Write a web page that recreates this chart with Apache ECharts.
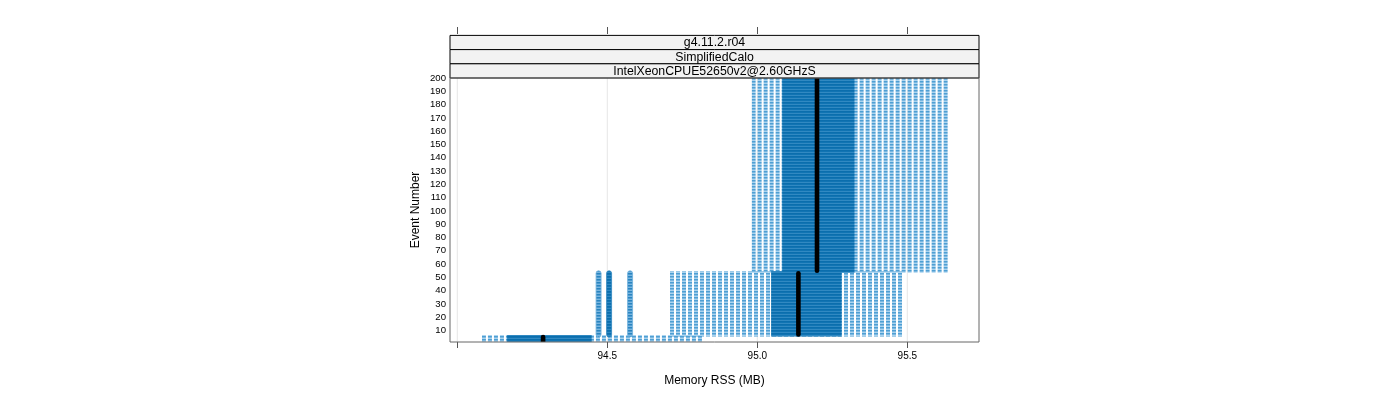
<!DOCTYPE html>
<html>
<head>
<meta charset="utf-8">
<script src="https://cdn.jsdelivr.net/npm/echarts@6/dist/echarts.min.js"></script>
<style>
html,body{margin:0;padding:0;background:#fff;}
#chart{width:1400px;height:400px;}
</style>
</head>
<body>
<div id="chart"></div>
<script>
// ---- data ----
const stripLabels = ['g4.11.2.r04', 'SimplifiedCalo', 'IntelXeonCPUE52650v2@2.60GHzS'];
const xTickValues = [94.0, 94.5, 95.0, 95.5];
const xLabelValues = [94.5, 95.0, 95.5];
const yTickValues = [10, 20, 30, 40, 50, 60, 70, 80, 90, 100, 110, 120, 130, 140, 150, 160, 170, 180, 190, 200];

// three phases of the job (event ranges)
const stageEventStart = [1, 7, 55];
const stageEventEnd = [5, 53, 200];
// spread of Memory RSS (MB) over all runs in each phase
const stageRssMin = [94.082, 94.709, 94.981];
const stageRssMax = [94.819, 95.487, 95.636];
// densely populated band
const denseRssMin = [94.166, 95.046, 95.083];
const denseRssMax = [94.448, 95.281, 95.324];
// median Memory RSS per phase
const medianRss = [94.286, 95.137, 95.199];
// isolated low-memory runs during phase 2
const outlierRss = [94.471, 94.506, 94.576];
const outlierDense = [0, 1, 0];
const outlierStage = 1;

// ---- styling helpers ----
function makePattern(w, h, rows, colW) {
  const c = document.createElement('canvas');
  c.width = w; c.height = h;
  const ctx = c.getContext('2d');
  ctx.clearRect(0, 0, w, h);
  rows.forEach(function (col, i) {
    ctx.fillStyle = col;
    ctx.fillRect(0, i, colW, 1);
  });
  return c;
}
const lightCanvas = makePattern(6, 3, ['#4e9fd3', '#7ab7e0', '#acd4ef'], 4);
const denseCanvas = makePattern(4, 3, ['#0b6ead', '#1174b3', '#3189c2'], 4);
const midCanvas = makePattern(4, 3, ['#2a84bf', '#4a9ad0', '#7ab6df'], 4);

const FONT = 'Liberation Sans, Arial, Helvetica, sans-serif';
const X_MIN = 93.9757, X_MAX = 95.739;
const Y_MIN = 1.3, Y_MAX = 200;
const GRID = {left: 450, top: 78, width: 529, height: 264};

function bandSeries(mins, maxs, canvas, offsetCols) {
  const data = stageEventStart.map(function (s, i) { return [mins[i], maxs[i], s, stageEventEnd[i]]; });
  return {
    type: 'custom', silent: true, clip: true,
    encode: {x: [0, 1], y: [2, 3]},
    data: data,
    renderItem: function (params, api) {
      const p0 = api.coord([api.value(0), api.value(3)]);
      const p1 = api.coord([api.value(1), api.value(2)]);
      return {
        type: 'rect',
        shape: {x: p0[0], y: p0[1] - 2, width: p1[0] - p0[0], height: p1[1] - p0[1] + 4},
        style: {fill: {image: canvas, repeat: 'repeat', x: offsetCols ? p0[0] : 0, y: 0}}
      };
    }
  };
}

const gridLineSeries = {
  type: 'custom', silent: true, clip: true,
  data: xTickValues.map(function (v) { return [v]; }),
  encode: {x: 0},
  renderItem: function (params, api) {
    const a = api.coord([api.value(0), Y_MIN]);
    const b = api.coord([api.value(0), Y_MAX]);
    return {type: 'line', shape: {x1: a[0], y1: a[1], x2: b[0], y2: b[1]},
      style: {stroke: '#e6e6e6', lineWidth: 1}};
  }
};

const outlierSeries = {
  type: 'custom', silent: true, clip: true,
  encode: {x: 0, y: [1, 2]},
  data: outlierRss.map(function (v, i) { return [v, stageEventStart[outlierStage], stageEventEnd[outlierStage], outlierDense[i]]; }),
  renderItem: function (params, api) {
    const p0 = api.coord([api.value(0), api.value(2)]);
    const p1 = api.coord([api.value(0), api.value(1)]);
    const dense = api.value(3) === 1;
    return {
      type: 'rect',
      shape: {x: p0[0] - 2.5, y: p0[1] - 2.5, width: 5, height: p1[1] - p0[1] + 5, r: 2.5},
      style: {fill: {image: dense ? denseCanvas : midCanvas, repeat: 'repeat'},
        stroke: dense ? '#2f86bf' : '#6fb0dc', lineWidth: 0.8}
    };
  }
};

const medianSeries = {
  type: 'custom', silent: true, clip: true,
  encode: {x: 0, y: [1, 2]},
  data: medianRss.map(function (v, i) { return [v, stageEventStart[i], stageEventEnd[i]]; }),
  renderItem: function (params, api) {
    const a = api.coord([api.value(0), api.value(1)]);
    const b = api.coord([api.value(0), api.value(2)]);
    return {type: 'line', shape: {x1: a[0], y1: a[1], x2: b[0], y2: b[1]},
      style: {stroke: '#000', lineWidth: 4.6, lineCap: 'round'}};
  }
};

const stripH = 14.2;
const graphics = [];
stripLabels.forEach(function (t, i) {
  const y = GRID.top - (3 - i) * stripH;
  graphics.push({
    type: 'rect', z: 100,
    shape: {x: GRID.left, y: y, width: GRID.width, height: stripH},
    style: {fill: '#f2f2f2', stroke: '#000', lineWidth: 1}
  });
  graphics.push({
    type: 'text', z: 101,
    x: GRID.left + GRID.width / 2, y: y + stripH / 2 + 0.5,
    style: {text: t, fill: '#000', font: '12.3px ' + FONT, textAlign: 'center', textVerticalAlign: 'middle'}
  });
});
graphics.push({
  type: 'rect', z: 100,
  shape: {x: GRID.left, y: GRID.top, width: GRID.width, height: GRID.height},
  style: {fill: 'none', stroke: '#666', lineWidth: 1}
});

const chart = echarts.init(document.getElementById('chart'), null, {renderer: 'canvas'});
chart.setOption({
  animation: false,
  backgroundColor: '#fff',
  grid: {left: GRID.left, top: GRID.top, width: GRID.width, height: GRID.height, containLabel: false},
  xAxis: [{
    type: 'value', min: X_MIN, max: X_MAX, position: 'bottom',
    name: 'Memory RSS (MB)', nameLocation: 'middle', nameGap: 33,
    nameTextStyle: {fontSize: 12, color: '#000', fontFamily: FONT},
    axisLine: {show: false},
    axisTick: {show: true, customValues: xTickValues, length: 6, lineStyle: {color: '#555'}},
    axisLabel: {customValues: xLabelValues, formatter: function (v) { return v.toFixed(1); },
      fontSize: 10, color: '#000', fontFamily: FONT, margin: 9},
    splitLine: {show: false}
  }, {
    type: 'value', min: X_MIN, max: X_MAX, position: 'top', offset: 44,
    axisLine: {show: false},
    axisTick: {show: true, customValues: xTickValues, length: 7, lineStyle: {color: '#555'}},
    axisLabel: {show: false},
    splitLine: {show: false}
  }],
  yAxis: {
    type: 'value', min: Y_MIN, max: Y_MAX,
    name: 'Event Number', nameLocation: 'middle', nameGap: 28,
    nameTextStyle: {fontSize: 12, color: '#000', fontFamily: FONT},
    axisLine: {show: false}, axisTick: {show: false},
    axisLabel: {customValues: yTickValues, fontSize: 9.6, color: '#000', fontFamily: FONT, margin: 4},
    splitLine: {show: false}
  },
  graphic: graphics,
  series: [
    gridLineSeries,
    bandSeries(stageRssMin, stageRssMax, lightCanvas, true),
    bandSeries(denseRssMin, denseRssMax, denseCanvas, false),
    outlierSeries,
    medianSeries
  ]
});
</script>
</body>
</html>
